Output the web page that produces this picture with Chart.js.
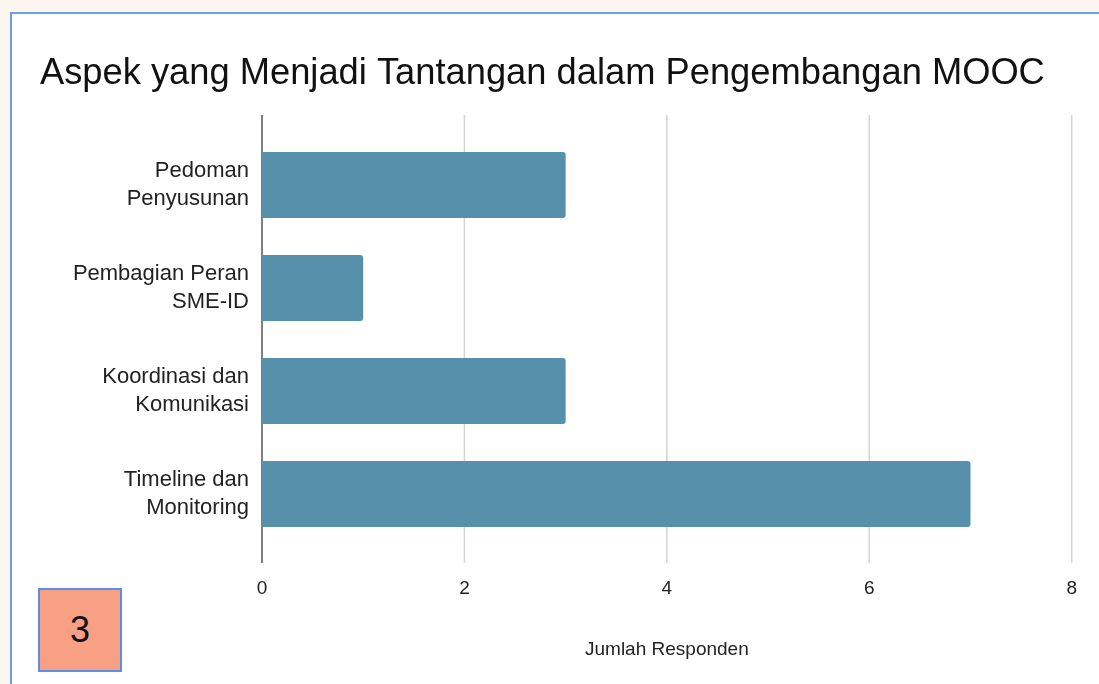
<!DOCTYPE html>
<html>
<head>
<meta charset="utf-8">
<script src="https://cdn.jsdelivr.net/npm/chart.js@4.4.1/dist/chart.umd.min.js"></script>
<style>
  html, body { margin: 0; padding: 0; background: #fdf6f0; }
  #page { position: relative; width: 1099px; height: 684px; overflow: hidden; }
  #panel {
    position: absolute; left: 10px; top: 12px; right: 0; bottom: 0;
    background: #fff; border-top: 2px solid #6d9eeb; border-left: 2px solid #6d9eeb;
  }
  #chart { position: absolute; left: 0; top: 0; }
  #badge {
    position: absolute; left: 38px; top: 588px; width: 80px; height: 80px;
    background: #f8a083; border: 2px solid #5b8def;
    font: 36px "Liberation Sans", Arial, sans-serif; color: #111;
    display: flex; align-items: center; justify-content: center;
  }
</style>
</head>
<body>
<div id="page">
  <div id="panel"></div>
  <canvas id="chart" width="1099" height="684"></canvas>
  <div id="badge">3</div>
</div>
<script>
const categories = [
  ['Pedoman', 'Penyusunan'],
  ['Pembagian Peran', 'SME-ID'],
  ['Koordinasi dan', 'Komunikasi'],
  ['Timeline dan', 'Monitoring']
];
const responden = [3, 1, 3, 7];
const xTicks = [0, 2, 4, 6, 8];

const font = '"Liberation Sans", Arial, sans-serif';

// vertical grid lines and the baseline run a bit past the bars, like the original
const longGrid = {
  id: 'longGrid',
  beforeDatasetsDraw(chart) {
    const { ctx } = chart;
    const x = chart.scales.x;
    const top = 115, bottom = 563;
    ctx.save();
    xTicks.forEach(v => {
      const px = x.getPixelForValue(v);
      ctx.beginPath();
      ctx.lineWidth = 1.5;
      ctx.strokeStyle = v === 0 ? '#555' : '#d4d4d4';
      ctx.moveTo(px, top);
      ctx.lineTo(px, bottom);
      ctx.stroke();
    });
    ctx.restore();
  }
};

new Chart(document.getElementById('chart').getContext('2d'), {
  type: 'bar',
  data: {
    labels: categories,
    datasets: [{
      label: 'Jumlah Responden',
      data: responden,
      backgroundColor: '#5790ab',
      borderRadius: 3,
      categoryPercentage: 0.8,
      barPercentage: 0.8
    }]
  },
  options: {
    indexAxis: 'y',
    responsive: false,
    animation: false,
    layout: { padding: { left: 40, right: 10, top: 0, bottom: 0 } },
    plugins: {
      legend: { display: false },
      tooltip: { enabled: false },
      title: {
        display: true,
        text: 'Aspek yang Menjadi Tantangan dalam Pengembangan MOOC',
        align: 'start',
        color: '#111',
        font: { family: font, size: 36.3, weight: 'normal', lineHeight: 1.2 },
        padding: { top: 52, bottom: 38 }
      }
    },
    scales: {
      x: {
        min: 0,
        max: 8,
        afterBuildTicks: s => { s.ticks = xTicks.map(v => ({ value: v })); },
        grid: { display: false, drawTicks: false },
        border: { display: false },
        ticks: { color: '#222', padding: 22, font: { family: font, size: 19, lineHeight: 2.25 } },
        title: {
          display: true,
          text: 'Jumlah Responden',
          color: '#222',
          font: { family: font, size: 19, lineHeight: 1.2 },
          padding: { top: 6, bottom: 23 }
        }
      },
      y: {
        afterFit: s => { s.width = 222; },
        grid: { display: false, drawTicks: false },
        border: { display: false },
        ticks: { color: '#222', padding: 13, font: { family: font, size: 22, lineHeight: 1.27 } }
      }
    }
  },
  plugins: [longGrid]
});
</script>
</body>
</html>
